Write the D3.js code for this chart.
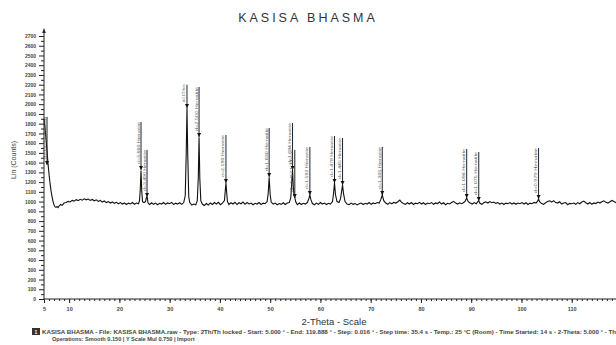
<!DOCTYPE html>
<html>
<head>
<meta charset="utf-8">
<script src="https://cdn.jsdelivr.net/npm/d3@7/dist/d3.min.js"></script>
<style>
  body { margin: 0; background: #fff; }
  svg { display: block; font-family: "Liberation Sans", Arial, sans-serif; }
</style>
</head>
<body>
<div id="chart"></div>
<script>
// measured scan, [2-theta, counts]
const scan = [
  [5.0,1850],[5.2,1760],[5.4,1640],[5.6,1520],[5.8,1390],[6.0,1280],[6.2,1190],[6.4,1110],[6.6,1050],[6.8,1000],
  [7.0,965],[7.2,945],[7.4,940],[7.6,950],[7.8,938],[8.0,955],[8.3,970],[8.6,962],[9.0,985],[9.4,990],
  [9.8,1002],[10.2,996],[10.6,1012],[11.0,1005],[11.4,1020],[11.8,1010],[12.2,1024],[12.6,1015],[13.0,1028],[13.4,1018],
  [13.8,1026],[14.2,1012],[14.6,1022],[15.0,1008],[15.4,1018],[15.8,1002],[16.2,1012],[16.6,995],[17.0,1006],[17.4,990],
  [17.8,1000],[18.2,985],[18.6,996],[19.0,982],[19.4,992],[19.8,978],[20.2,990],[20.6,975],[21.0,986],[21.4,970],
  [21.8,984],[22.2,976],[22.6,990],[23.0,972],[23.4,985],[23.8,978],[24.0,1010],[24.15,1120],[24.3,1320],[24.45,1110],
  [24.6,1000],[24.9,990],[25.2,1000],[25.4,1045],[25.55,1040],[25.7,985],[26.0,970],[26.4,988],[26.8,972],[27.2,985],
  [27.6,968],[28.0,982],[28.4,975],[28.8,990],[29.2,972],[29.6,986],[30.0,978],[30.4,992],[30.8,970],[31.2,984],
  [31.6,975],[32.0,988],[32.4,972],[32.8,990],[33.1,1060],[33.3,1500],[33.45,1960],[33.6,1480],[33.8,1050],[34.0,990],
  [34.4,965],[34.8,975],[35.2,968],[35.5,1010],[35.7,1250],[35.85,1660],[36.0,1240],[36.2,1010],[36.5,975],[36.9,960],
  [37.3,980],[37.7,965],[38.1,986],[38.5,970],[38.9,990],[39.3,975],[39.7,992],[40.1,968],[40.5,985],[40.9,1010],
  [41.05,1100],[41.2,1190],[41.35,1090],[41.5,1000],[41.8,970],[42.2,988],[42.6,975],[43.0,992],[43.4,970],[43.8,988],
  [44.2,978],[44.6,995],[45.0,972],[45.4,990],[45.8,976],[46.2,985],[46.6,968],[47.0,982],[47.4,975],[47.8,990],
  [48.2,970],[48.6,984],[49.0,978],[49.4,1000],[49.6,1080],[49.8,1250],[50.0,1070],[50.2,995],[50.6,975],[51.0,985],
  [51.4,968],[51.8,980],[52.2,972],[52.6,988],[53.0,970],[53.4,985],[53.8,990],[54.1,1040],[54.3,1200],[54.45,1325],
  [54.6,1150],[54.75,1060],[54.9,1040],[55.1,995],[55.4,968],[55.8,985],[56.2,970],[56.6,982],[57.0,975],[57.4,990],
  [57.7,1030],[57.9,1068],[58.1,1020],[58.4,980],[58.8,968],[59.2,985],[59.6,972],[60.0,990],[60.4,975],[60.8,985],
  [61.2,970],[61.6,982],[62.0,975],[62.4,1000],[62.6,1080],[62.8,1190],[63.0,1070],[63.3,1000],[63.7,990],[64.0,1030],
  [64.2,1100],[64.4,1170],[64.6,1080],[64.9,1000],[65.3,975],[65.7,968],[66.1,985],[66.5,972],[66.9,980],[67.3,966],
  [67.7,978],[68.1,985],[68.5,970],[68.9,982],[69.3,975],[69.7,990],[70.1,972],[70.5,986],[70.9,978],[71.3,990],
  [71.7,985],[72.0,1020],[72.3,1068],[72.6,1010],[73.0,985],[73.4,972],[73.8,990],[74.2,978],[74.6,992],[75.0,985],
  [75.4,998],[75.8,1015],[76.1,995],[76.5,980],[76.9,972],[77.3,988],[77.7,975],[78.1,990],[78.5,970],[78.9,984],
  [79.3,978],[79.7,992],[80.1,975],[80.5,988],[80.9,970],[81.3,985],[81.7,978],[82.1,990],[82.5,972],[82.9,986],
  [83.3,980],[83.7,995],[84.1,975],[84.5,988],[84.9,968],[85.3,982],[85.7,976],[86.1,990],[86.5,1002],[86.9,985],
  [87.3,975],[87.7,988],[88.1,978],[88.5,990],[88.8,1005],[89.1,1037],[89.4,1000],[89.8,985],[90.2,975],[90.6,990],
  [91.0,978],[91.3,1000],[91.5,1008],[91.7,985],[92.1,972],[92.5,988],[92.9,998],[93.3,985],[93.7,1000],[94.1,988],
  [94.5,995],[94.9,982],[95.3,990],[95.7,975],[96.1,985],[96.5,970],[96.9,984],[97.3,978],[97.7,990],[98.1,975],
  [98.5,986],[98.9,972],[99.3,985],[99.7,978],[100.1,990],[100.5,975],[100.9,988],[101.3,970],[101.7,984],[102.1,978],
  [102.5,992],[102.9,985],[103.2,1005],[103.4,1025],[103.6,998],[104.0,980],[104.4,972],[104.8,988],[105.2,1000],[105.6,1008],
  [106.0,995],[106.4,1010],[106.8,990],[107.2,985],[107.6,998],[108.0,975],[108.4,986],[108.8,990],[109.2,968],[109.6,982],
  [110.0,978],[110.4,985],[110.8,972],[111.2,990],[111.6,978],[112.0,995],[112.4,1005],[112.8,988],[113.2,975],[113.6,990],
  [114.0,972],[114.4,986],[114.8,980],[115.2,995],[115.6,985],[116.0,998],[116.4,1008],[116.8,992],[117.2,985],[117.6,998],
  [118.0,1012],[118.4,1000],[118.8,990],[119.2,996],[119.6,985],[119.9,990]
];

// peak markers: 2-theta, counts at arrow, counts at top of line, label
const markAngle = [5.6, 24.3, 25.5, 33.45, 35.85, 41.2, 49.8, 54.45, 54.9, 57.9, 62.8, 64.4, 72.3, 89.1, 91.5, 103.4];
const markPeak  = [1376, 1325, 1047, 1961, 1663, 1191, 1253, 1325, 1037, 1068, 1191, 1170, 1068, 1037, 1006, 1027];
const markTop   = [1870, 1817, 1530, 2200, 2177, 1684, 1756, 1807, 1530, 1561, 1674, 1653, 1561, 1540, 1509, 1550];
const markText  = [
  "d=15.77 Kasisa", "d=3.660 Hematite", "d=3.490 Hematite", "d=2.673 Hem", "d=2.500 Hematite",
  "d=2.190 Hematite", "d=1.830 Hematite", "d=1.684 Hematite", "d=1.671 Hem", "d=1.592 Hematite",
  "d=1.478 Hematite", "d=1.445 Hematite", "d=1.305 Hematite", "d=1.098 Hematite", "d=1.075 Hematite",
  "d=0.979 Hematite"
];

const yTicks = d3.range(0, 2701, 100);
const xTicks = [5, 10, 20, 30, 40, 50, 60, 70, 80, 90, 100, 110];

const title = "KASISA BHASMA";
const xTitle = "2-Theta - Scale";
const yTitle = "Lin (Counts)";
const footer1 = "KASISA BHASMA - File: KASISA BHASMA.raw - Type: 2Th/Th locked - Start: 5.000 ° - End: 119.888 ° - Step: 0.016 ° - Step time: 35.4 s - Temp.: 25 °C (Room) - Time Started: 14 s - 2-Theta: 5.000 ° - Th";
const footer2 = "Operations: Smooth 0.150 | Y Scale Mul 0.750 | Import";

const width = 616, height = 345;
const x0 = 44, y0 = 299;

const svg = d3.select("#chart").append("svg")
  .attr("width", width)
  .attr("height", height);

const x = d3.scaleLinear().domain([5, 120]).range([x0, 622]);
const y = d3.scaleLinear().domain([0, 2700]).range([y0, 36]);

// title
svg.append("text")
  .attr("x", 308).attr("y", 22)
  .attr("text-anchor", "middle")
  .attr("font-size", 12.5)
  .attr("letter-spacing", 3)
  .attr("fill", "#333")
  .text(title);

// y axis
const ya = svg.append("g").attr("transform", `translate(${x0},0)`);
ya.call(d3.axisLeft(y).tickValues(d3.range(50, 2700, 100)).tickSize(3).tickFormat(""));
ya.call(g => g.append("g").call(d3.axisLeft(y).tickValues(yTicks).tickSize(5).tickFormat(d3.format("d"))));
ya.selectAll(".domain").remove();
ya.selectAll("line").attr("stroke", "#222");
ya.selectAll("text").attr("font-size", 5).attr("fill", "#444").attr("font-weight", "bold").attr("x", -8);
ya.append("line").attr("x1", 0).attr("x2", 0).attr("y1", y0).attr("y2", 31).attr("stroke", "#222");
ya.append("path").attr("d", "M0,28 L-1.8,33 L1.8,33 Z").attr("fill", "#222");

// x axis
const xa = svg.append("g").attr("transform", `translate(0,${y0})`);
xa.call(d3.axisBottom(x).tickValues(d3.range(6, 120, 1)).tickSize(2).tickFormat(""));
xa.call(g => g.append("g").call(d3.axisBottom(x).tickValues(xTicks).tickSize(4).tickFormat(d3.format("d"))));
xa.selectAll(".domain").remove();
xa.selectAll("line").attr("stroke", "#222");
xa.selectAll("text").attr("font-size", 5.5).attr("fill", "#444").attr("font-weight", "bold").attr("y", 8);
xa.append("line").attr("x1", x0).attr("x2", width).attr("y1", 0).attr("y2", 0).attr("stroke", "#222");

// axis titles
svg.append("text")
  .attr("transform", "translate(16,160) rotate(-90)")
  .attr("text-anchor", "middle")
  .attr("font-size", 7)
  .attr("fill", "#444")
  .text(yTitle);

svg.append("text")
  .attr("x", 334).attr("y", 325)
  .attr("text-anchor", "middle")
  .attr("font-size", 9.5)
  .attr("fill", "#333")
  .text(xTitle);

// scan curve
const line = d3.line().x(d => x(d[0])).y(d => y(d[1]));
svg.append("path")
  .datum(scan)
  .attr("d", line)
  .attr("fill", "none")
  .attr("stroke", "#111")
  .attr("stroke-width", 1.1);

// peak markers
const marks = markAngle.map((a, i) => ({ a, peak: markPeak[i], top: markTop[i], label: markText[i] }));
const mg = svg.append("g").selectAll("g").data(marks).join("g");
mg.append("line")
  .attr("x1", d => x(d.a)).attr("x2", d => x(d.a))
  .attr("y1", d => y(d.top)).attr("y2", d => y(d.peak))
  .attr("stroke", "#222").attr("stroke-width", 1);
mg.append("path")
  .attr("d", d => `M${x(d.a)},${y(d.peak)} L${x(d.a) - 2},${y(d.peak) - 4} L${x(d.a) + 2},${y(d.peak) - 4} Z`)
  .attr("fill", "#111");
mg.append("text")
  .attr("transform", d => `translate(${x(d.a) - 1.5},${y(d.peak) - 6}) rotate(-90)`)
  .attr("font-size", 4)
  .attr("fill", "#555")
  .attr("textLength", d => Math.max(8, y(d.peak) - y(d.top) - 6))
  .attr("lengthAdjust", "spacingAndGlyphs")
  .text(d => d.label);

// footer
svg.append("rect").attr("x", 32).attr("y", 328).attr("width", 8).attr("height", 7).attr("fill", "#333");
svg.append("text").attr("x", 36).attr("y", 334).attr("text-anchor", "middle")
  .attr("font-size", 5).attr("font-weight", "bold").attr("fill", "#fff").text("1");
svg.append("text")
  .attr("x", 42).attr("y", 334)
  .attr("font-size", 5.6)
  .attr("font-weight", "bold")
  .attr("fill", "#444")
  .attr("textLength", 574)
  .attr("lengthAdjust", "spacingAndGlyphs")
  .text(footer1);
svg.append("text")
  .attr("x", 52).attr("y", 341)
  .attr("font-size", 5.6)
  .attr("font-weight", "bold")
  .attr("fill", "#444")
  .text(footer2);
</script>
</body>
</html>
